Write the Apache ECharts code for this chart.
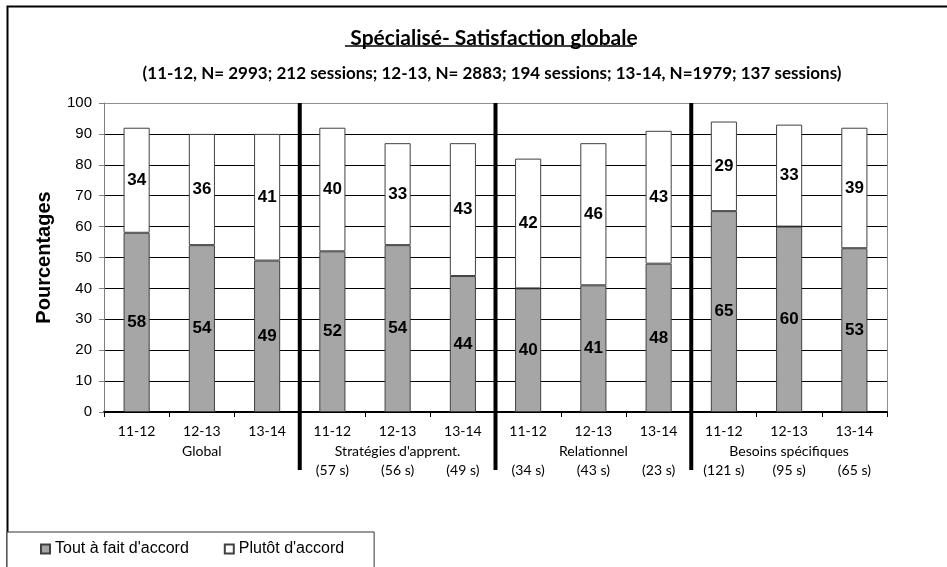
<!DOCTYPE html>
<html>
<head>
<meta charset="utf-8">
<script src="https://cdn.jsdelivr.net/npm/echarts@6/dist/echarts.min.js"></script>
<style>
html,body{margin:0;padding:0;background:#fff;}
#c{width:947px;height:567px;}
</style>
</head>
<body>
<div id="c"></div>
<script>
// ---- data ----
const groups = ['Global', "Stratégies d'apprent.", 'Relationnel', 'Besoins spécifiques'];
const years = ['11-12', '12-13', '13-14'];
const sessions = [
  ['', '', ''],
  ['(57 s)', '(56 s)', '(49 s)'],
  ['(34 s)', '(43 s)', '(23 s)'],
  ['(121 s)', '(95 s)', '(65 s)']
];
const toutAFait = [58, 54, 49, 52, 54, 44, 40, 41, 48, 65, 60, 53];
const plutot = [34, 36, 41, 40, 33, 43, 42, 46, 43, 29, 33, 39];
const seriesNames = ["Tout à fait d'accord", "Plutôt d'accord"];
const yTicks = [0, 10, 20, 30, 40, 50, 60, 70, 80, 90, 100];
const titleText = 'Spécialisé- Satisfaction globale';
const subtitleText = '(11-12, N= 2993; 212 sessions; 12-13, N= 2883; 194 sessions; 13-14, N=1979; 137 sessions)';

// build categories
const categories = [];
const catInfo = {};
groups.forEach((g, gi) => {
  years.forEach((y, yi) => {
    const key = g + '|' + y;
    categories.push(key);
    catInfo[key] = {
      year: y,
      group: yi === Math.floor(years.length / 2) ? g : '',
      sess: sessions[gi][yi]
    };
  });
});
const separators = groups.slice(1).map((g, i) => [(i + 1) * years.length]);

const chart = echarts.init(document.getElementById('c'), null, {renderer: 'canvas'});
const labelFont = 'Lato, "Liberation Sans", sans-serif';
const arial = '"Liberation Sans", Arial, sans-serif';

const option = {
  backgroundColor: '#fff',
  animation: false,
  title: [
    {
      text: titleText,
      left: 489, top: 23, textAlign: 'center',
      textStyle: {fontFamily: labelFont, fontWeight: 'bold', fontSize: 21, color: '#000'}
    },
    {
      text: subtitleText,
      left: 487, top: 60, textAlign: 'center',
      textStyle: {fontFamily: labelFont, fontWeight: 'bold', fontSize: 17, color: '#000'}
    }
  ],
  graphic: [
    {type: 'rect', left: 5, top: 4, z: -10, silent: true,
     shape: {width: 1000, height: 1000}, style: {fill: 'none', stroke: '#000', lineWidth: 2}},
    {type: 'line', silent: true, shape: {x1: 345, y1: 46, x2: 633, y2: 46},
     style: {stroke: '#000', lineWidth: 1.5}}
  ],
  legend: {
    data: seriesNames,
    left: 7, top: 532,
    padding: [9, 30, 20, 33],
    borderColor: '#333', borderWidth: 1,
    backgroundColor: '#fff',
    itemWidth: 9, itemHeight: 9, itemGap: 35,
    icon: 'rect',
    textStyle: {fontFamily: arial, fontSize: 16, color: '#000'}
  },
  grid: {left: 104, right: 60, top: 103, bottom: 155, containLabel: false},
  xAxis: [
    {
      type: 'category',
      data: categories,
      axisLine: {lineStyle: {color: '#000', width: 2}},
      axisTick: {show: true, length: 5, lineStyle: {color: '#000', width: 1}},
      axisLabel: {
        interval: 0, margin: 10,
        formatter: v => {
          const c = catInfo[v];
          return '{a|' + c.year + '}\n{a|' + (c.group || ' ') + '}\n{a|' + (c.sess || ' ') + '}';
        },
        rich: {a: {fontFamily: labelFont, fontSize: 14, lineHeight: 19.5, color: '#000'}}
      },
      splitLine: {show: false}
    },
    {type: 'value', min: 0, max: categories.length, show: false}
  ],
  yAxis: [
    {
      type: 'value', min: 0, max: 100, interval: 10,
      name: 'Pourcentages', nameLocation: 'middle', nameGap: 50, nameRotate: 90,
      nameTextStyle: {fontFamily: arial, fontWeight: 'bold', fontSize: 20, color: '#000'},
      axisLine: {show: true, lineStyle: {color: '#808080', width: 1}},
      axisTick: {show: true, length: 5, lineStyle: {color: '#808080'}},
      axisLabel: {margin: 12, fontFamily: arial, fontSize: 15, color: '#000',
        formatter: v => (yTicks.indexOf(v) >= 0 ? String(v) : '')},
      splitLine: {show: true, lineStyle: {color: ['#000','#000','#000','#000','#000','#000','#000','#000','#000','#000','#909090'], width: 1}}
    },
    {
      type: 'value', min: 0, max: 100, position: 'right',
      axisLine: {show: true, lineStyle: {color: '#909090', width: 1}},
      axisTick: {show: false}, axisLabel: {show: false}, splitLine: {show: false}
    }
  ],
  series: [
    {
      name: seriesNames[0], type: 'bar', stack: 's', barWidth: '40%',
      data: toutAFait,
      itemStyle: {color: '#a6a6a6', borderColor: '#404040', borderWidth: 1},
      label: {show: true, position: 'inside', fontFamily: arial, fontWeight: 'bold', fontSize: 17, color: '#000'}
    },
    {
      name: seriesNames[1], type: 'bar', stack: 's', barWidth: '40%',
      data: plutot,
      itemStyle: {color: '#ffffff', borderColor: '#404040', borderWidth: 1},
      label: {show: true, position: 'inside', fontFamily: arial, fontWeight: 'bold', fontSize: 17, color: '#000'}
    },
    {
      name: 'sep', type: 'custom', xAxisIndex: 1, yAxisIndex: 0,
      data: separators, z: 5, silent: true,
      renderItem: (params, api) => {
        const x = api.value(0);
        const top = api.coord([x, 100]);
        const bot = api.coord([x, 0]);
        return {type: 'line', shape: {x1: top[0], y1: top[1], x2: bot[0], y2: bot[1] + 58},
                style: {stroke: '#000', lineWidth: 4}};
      }
    }
  ]
};
chart.setOption(option);
</script>
</body>
</html>
